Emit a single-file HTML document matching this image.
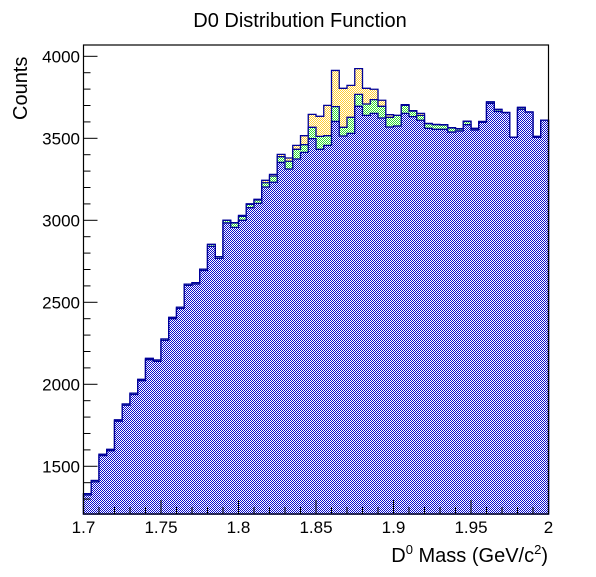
<!DOCTYPE html>
<html><head><meta charset="utf-8"><style>
body{margin:0;background:#fff;}
svg text{font-family:"Liberation Sans",sans-serif;}
</style></head><body>
<svg id="c" width="596" height="572" xmlns="http://www.w3.org/2000/svg">
<defs>
<pattern id="pb" width="2" height="2" patternUnits="userSpaceOnUse"><rect width="2" height="2" fill="#fff"/><rect width="1" height="1" fill="#0a0acc"/><rect x="1" y="1" width="1" height="1" fill="#0a0acc"/></pattern>
<pattern id="pg" width="2" height="2" patternUnits="userSpaceOnUse"><rect width="2" height="2" fill="#fff"/><rect width="1" height="1" fill="#33dd33"/><rect x="1" y="1" width="1" height="1" fill="#33dd33"/></pattern>
<pattern id="py" width="2" height="2" patternUnits="userSpaceOnUse"><rect width="2" height="2" fill="#fff"/><rect width="1" height="1" fill="#ffcc33"/><rect x="1" y="1" width="1" height="1" fill="#ffcc33"/></pattern>
</defs>
<g id="marks"></g>
<rect x="83.5" y="45" width="465" height="469" fill="none" stroke="#000" stroke-width="1.2"/>
<g id="axes"></g>
<text x="300" y="27" font-size="20" text-anchor="middle">D0 Distribution Function</text>
<text transform="translate(27,120) rotate(-90)" font-size="20" text-anchor="start">Counts</text>
<text x="548" y="562" font-size="20" text-anchor="end">D<tspan font-size="13" dy="-8">0</tspan><tspan dy="8"> Mass (GeV/c</tspan><tspan font-size="13" dy="-8">2</tspan><tspan dy="8">)</tspan></text>
</svg>
<script>
const binLow = 1.7, binWidth = 0.005;
const blueVals = [1325,1405,1565,1595,1775,1872,1938,2022,2150,2140,2268,2400,2462,2603,2612,2694,2841,2768,2984,2957,3000,3077,3103,3203,3232,3353,3313,3374,3414,3498,3433,3457,3603,3514,3530,3695,3640,3652,3624,3569,3575,3652,3632,3610,3561,3555,3555,3538,3545,3583,3551,3597,3713,3664,3656,3506,3677,3660,3506,3610];
const greenVals = [8,8,8,8,8,8,8,8,8,8,8,8,8,8,8,8,12,10,16,27,24,20,21,26,38,35,47,59,47,69,79,59,90,53,98,73,69,84,71,59,65,49,34,30,28,28,26,25,12,20,8,4,8,11,0,0,10,0,6,0];
const yellowVals = [0,0,0,0,0,0,0,0,0,0,0,0,0,0,0,0,0,0,0,2,6,4,4,15,10,14,20,24,55,79,122,185,221,238,195,157,96,63,37,16,0,4,3,12,2,2,2,2,2,2,2,2,2,2,2,0,2,0,0,0];
const xTicks = ["1.7","1.75","1.8","1.85","1.9","1.95","2"];
const yTicks = ["1500","2000","2500","3000","3500","4000"];

const X0=83.5,X1=548.5,XMIN=1.7,XMAX=2.0,YMIN=1209,YMAX=4069,PY0=514,PY1=45;
const xs=v=>X0+(v-XMIN)/(XMAX-XMIN)*(X1-X0);
const ys=v=>PY0-(v-YMIN)/(YMAX-YMIN)*(PY0-PY1);
const NS="http://www.w3.org/2000/svg";
const marks=document.getElementById('marks');
function step(vals,fill,name){
  let d="M"+xs(binLow)+","+PY0;
  vals.forEach((v,i)=>{
    const a=xs(binLow+i*binWidth),b=xs(binLow+(i+1)*binWidth),y=ys(Math.max(v,YMIN));
    d+=" L"+a+","+y+" L"+b+","+y;
  });
  d+=" L"+xs(binLow+vals.length*binWidth)+","+PY0+" Z";
  const p=document.createElementNS(NS,'path');
  p.setAttribute('d',d);p.setAttribute('fill',fill);p.setAttribute('stroke','#000099');
  p.setAttribute('stroke-width','1.3');
  
  
  marks.appendChild(p);
}
const tot=blueVals.map((b,i)=>b+greenVals[i]+yellowVals[i]);
const bg=blueVals.map((b,i)=>b+greenVals[i]);
step(tot,"url(#py)","histogram-yellow");
step(bg,"url(#pg)","histogram-green");
step(blueVals,"url(#pb)","histogram-blue");

const axes=document.getElementById('axes');
function line(x1,y1,x2,y2){const l=document.createElementNS(NS,'line');l.setAttribute('x1',x1);l.setAttribute('y1',y1);l.setAttribute('x2',x2);l.setAttribute('y2',y2);l.setAttribute('stroke','#000');l.setAttribute('stroke-width','1');


axes.appendChild(l);}
function txt(x,y,s,anchor,name){const t=document.createElementNS(NS,'text');t.setAttribute('x',x);t.setAttribute('y',y);t.setAttribute('font-size','17');t.setAttribute('text-anchor',anchor);t.textContent=s;


axes.appendChild(t);}
for(let k=0;k<=30;k++){const v=1.7+k*0.01;const x=xs(v);line(x,PY0,x,PY0-(k%5==0?14:7));}
xTicks.forEach(s=>txt(xs(+s),533,s,"middle","x-tick-label"));
for(let v=1300;v<=4000;v+=100){const y=ys(v);line(X0,y,X0+(v%500==0?14:7),y);}
yTicks.forEach(s=>txt(80,ys(+s)+6,s,"end","y-tick-label"));
</script>
</body></html>
